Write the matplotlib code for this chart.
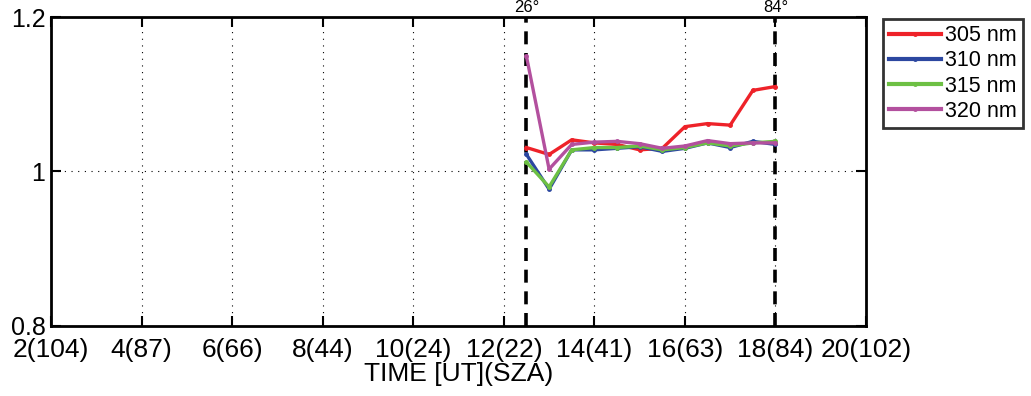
import matplotlib
matplotlib.use("Agg")
import matplotlib.pyplot as plt

hours = [12.5, 13.0, 13.5, 14.0, 14.5, 15.0, 15.5, 16.0, 16.5, 17.0, 17.5, 18.0]
r305 = [1.031, 1.022, 1.041, 1.037, 1.035, 1.028, 1.030, 1.058, 1.062, 1.060, 1.105, 1.110]
r310 = [1.022, 0.977, 1.028, 1.028, 1.030, 1.032, 1.026, 1.030, 1.037, 1.031, 1.039, 1.035]
r315 = [1.012, 0.980, 1.028, 1.031, 1.031, 1.033, 1.028, 1.031, 1.037, 1.033, 1.037, 1.039]
r320 = [1.149, 1.003, 1.035, 1.038, 1.039, 1.036, 1.030, 1.033, 1.040, 1.036, 1.037, 1.037]
series_labels = ["305 nm", "310 nm", "315 nm", "320 nm"]
xticks = [2, 4, 6, 8, 10, 12, 14, 16, 18, 20]
xticklabels = ["2(104)", "4(87)", "6(66)", "8(44)", "10(24)", "12(22)", "14(41)", "16(63)", "18(84)", "20(102)"]
yticks = [0.8, 1.0, 1.2]
yticklabels = ["0.8", "1", "1.2"]
markers_x = [12.5, 18.0]
markers_lbl = ["26°", "84°"]

plt.rcParams['font.family'] = ['Liberation Sans', 'DejaVu Sans']

colors = ['#EE2229', '#2C47A0', '#6DC044', '#B3509E']

fig = plt.figure(figsize=(10.31, 3.96), dpi=100)
ax = fig.add_axes([0.0495, 0.177, 0.7905, 0.780])

for ys, c, l in zip([r305, r310, r315, r320], colors, series_labels):
    ax.plot(hours, ys, '-', color=c, lw=2.4, marker='o', ms=2.5, label=l)

for xv, lb in zip(markers_x, markers_lbl):
    ax.axvline(xv, color='black', lw=2.6, ls=(0, (3.6, 2.4)), zorder=1)
    ax.text(xv, 1.202, lb, ha='center', va='bottom', fontsize=12)

ax.set_xlim(2, 20)
ax.set_ylim(0.8, 1.2)
ax.set_xticks(xticks)
ax.set_xticklabels(xticklabels, fontsize=19)
ax.set_yticks(yticks)
ax.set_yticklabels(yticklabels, fontsize=18)
ax.tick_params(direction='in', length=7, width=1.5, top=True, right=True)
ax.tick_params(axis='x', pad=9)
ax.tick_params(axis='y', pad=4)
ax.grid(True, ls=(0, (1, 5)), color='black', lw=0.8)
for s in ax.spines.values():
    s.set_linewidth(2)
ax.set_xlabel("TIME [UT](SZA)", fontsize=19, labelpad=0)

leg = ax.legend(loc='upper left', bbox_to_anchor=(0.856, 0.953), bbox_transform=fig.transFigure,
                fontsize=15.5, frameon=True, fancybox=False, edgecolor='black',
                handlelength=2.4, borderpad=0.3, labelspacing=0.2, handletextpad=0.2,
                borderaxespad=0)
leg.get_frame().set_linewidth(2)
for h in leg.legend_handles:
    h.set_linewidth(3)

fig.savefig("out.png", dpi=100)
